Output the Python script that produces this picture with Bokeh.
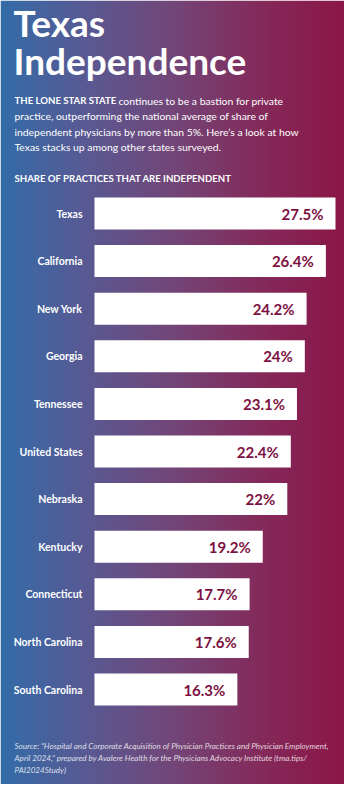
import numpy as np
from bokeh.plotting import figure
from bokeh.models import Label, Range1d, ColumnDataSource
from bokeh.core.properties import value
from bokeh.embed import file_html
from bokeh.resources import INLINE

# ---- data ----
states = ["Texas", "California", "New York", "Georgia", "Tennessee", "United States",
          "Nebraska", "Kentucky", "Connecticut", "North Carolina", "South Carolina"]
shares = [27.5, 26.4, 24.2, 24.0, 23.1, 22.4, 22.0, 19.2, 17.7, 17.6, 16.3]
share_labels = ["27.5%", "26.4%", "24.2%", "24%", "23.1%", "22.4%", "22%", "19.2%", "17.7%", "17.6%", "16.3%"]

title_lines = ["Texas", "Independence"]
intro_bold = "THE LONE STAR STATE"
intro_lines = ["continues to be a bastion for private",
               "practice, outperforming the national average of share of",
               "independent physicians by more than 5%. Here\u2019s a look at how",
               "Texas stacks up among other states surveyed."]
subhead = "SHARE OF PRACTICES THAT ARE INDEPENDENT"
source_lines = ["Source: \u201cHospital and Corporate Acquisition of Physician Practices and Physician Employment,",
                "April 2024,\u201d prepared by Avalere Health for the Physicians Advocacy Institute (tma.tips/",
                "PAI2024Study)"]

FONT = "Lato"
W, H = 344, 784

# scales (pixel layout)
k = 241 / 27.5           # px per percentage point
x0_px = 94               # pixel of value 0
x_start = -x0_px / k
x_end = (W - x0_px) / k
row_px = 47.6
y_top = 213 / row_px
y_bottom = y_top - H / row_px

p = figure(width=W, height=H, output_backend="svg", toolbar_location=None,
           x_range=Range1d(x_start, x_end), y_range=Range1d(y_bottom, y_top),
           x_axis_location=None, y_axis_location=None, min_border=0)
p.grid.visible = False
p.outline_line_color = None
p.background_fill_color = None
p.border_fill_color = None

# gradient background
stops = np.array([0.0, 0.25, 0.5, 0.75, 1.0])
cols = np.array([[48, 110, 170], [88, 90, 148], [115, 70, 120], [132, 42, 90], [140, 20, 70]], float)
t = (np.arange(W) + 8) / 360.0
rgb = np.stack([np.interp(t, stops, cols[:, c]) for c in range(3)], axis=1).astype(np.uint32)
img = (255 << 24) | (rgb[:, 2] << 16) | (rgb[:, 1] << 8) | rgb[:, 0]
img = img.reshape(1, W).astype(np.uint32)
p.image_rgba(image=[img], x=x_start, y=y_bottom, dw=x_end - x_start, dh=y_top - y_bottom)

rows = [-i for i in range(len(states))]
src = ColumnDataSource(dict(y=rows, v=shares, s=states, lab=share_labels))
p.hbar(y="y", left=0, right="v", height=32 / row_px, source=src,
       fill_color="white", line_color=None)
p.text(x=0, y="y", text="s", source=src, x_offset=-12, text_align="right",
       text_baseline="middle", text_color="white", text_font=value(FONT),
       text_font_style="bold", text_font_size="10.5px")
p.text(x="v", y="y", text="lab", source=src, x_offset=-12, text_align="right",
       text_baseline="middle", text_color="#7d1141", text_font=value(FONT),
       text_font_style="bold", text_font_size="15px")

def sy(yref):
    return 792 - yref

def add(text, xref, yref, size, style="normal", color="white", alpha=1.0, baseline="middle"):
    p.add_layout(Label(x=xref - 8, y=sy(yref), x_units="screen", y_units="screen",
                       text=text, text_font=FONT, text_font_size=size,
                       text_font_style=style, text_color=color, text_alpha=alpha,
                       text_baseline=baseline, text_align="left"))

add(title_lines[0], 21, 30, "37px", "bold", baseline="alphabetic")
add(title_lines[1], 21, 68, "37px", "bold", baseline="alphabetic")
add(intro_bold, 22, 108, "9.6px", "bold")
add(intro_lines[0], 126, 108, "10.4px")
for j, ln in enumerate(intro_lines[1:]):
    add(ln, 22, 123.5 + 15.7 * j, "10.4px")
add(subhead, 22, 186, "9.6px", "bold")
for j, ln in enumerate(source_lines):
    add(ln, 22, 753 + 12 * j, "8.1px", "italic", alpha=0.8)

open("out.html", "w").write(file_html(p, INLINE))
